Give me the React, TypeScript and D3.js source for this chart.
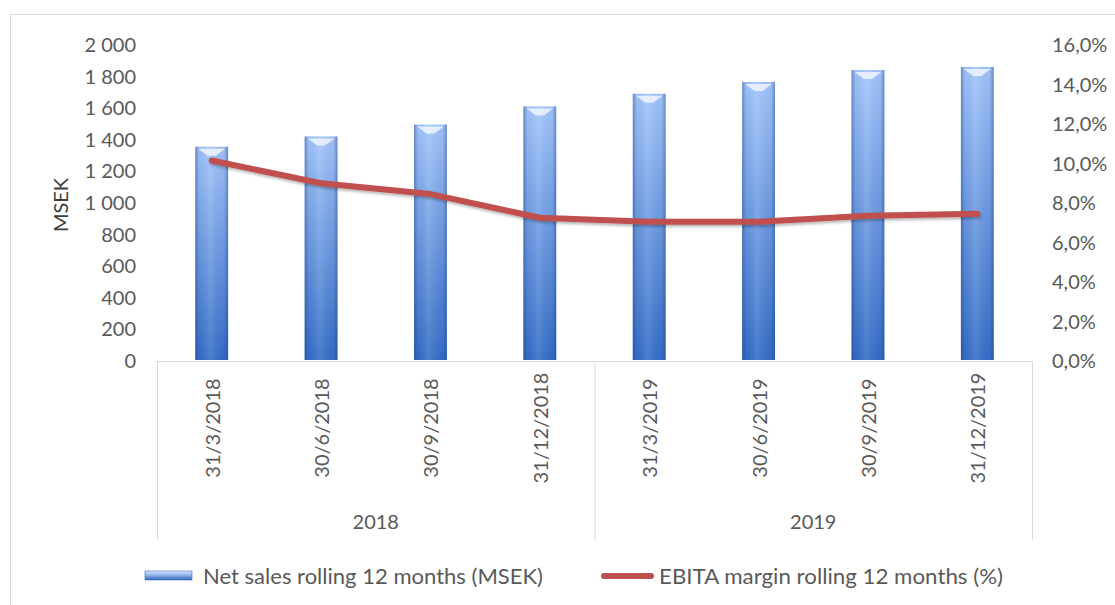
import React from 'react';
import * as d3 from 'd3';

const dates = ['31/3/2018', '30/6/2018', '30/9/2018', '31/12/2018', '31/3/2019', '30/6/2019', '30/9/2019', '31/12/2019'];
const years = ['2018', '2019'];
const netSales = [1350, 1415, 1490, 1605, 1685, 1760, 1835, 1855];
const ebitaMargin = [10.1, 8.95, 8.4, 7.2, 7.0, 7.0, 7.3, 7.4];
const leftTicks = [0, 200, 400, 600, 800, 1000, 1200, 1400, 1600, 1800, 2000];
const rightTicks = [0, 2, 4, 6, 8, 10, 12, 14, 16];

const W = 1115;
const H = 605;
const plot = { left: 157, right: 1032, top: 44, bottom: 360 };
const font = 'Lato, "Open Sans", sans-serif';
const textColor = '#595959';
const lineColor = '#C0504D';

const App: React.FC = () => {
    const x = d3.scaleBand<string>()
        .domain(dates)
        .range([plot.left, plot.right])
        .paddingInner(0.7)
        .paddingOuter(0.35);

    const yLeft = d3.scaleLinear().domain([0, 2000]).range([plot.bottom, plot.top]);
    const yRight = d3.scaleLinear().domain([0, 16]).range([plot.bottom, plot.top]);

    const line = d3.line<number>()
        .x((_, i) => (x(dates[i]) ?? 0) + x.bandwidth() / 2)
        .y(d => yRight(d));

    const fmtLeft = (v: number) => d3.format(',')(v).replace(',', ' ');
    const fmtRight = (v: number) => v.toFixed(1).replace('.', ',') + '%';

    const groupW = x.step() * 4;
    const axisY = plot.bottom + 1;
    const bw = x.bandwidth();

    return (
        <svg width={W} height={H} style={{ position: 'absolute', left: 0, top: 0, display: 'block' }}>
            <defs>
                <linearGradient id="barV" x1="0" y1="0" x2="0" y2="1">
                    <stop offset="0%" stopColor="#a3c5fb" />
                    <stop offset="100%" stopColor="#336cc6" />
                </linearGradient>
                <linearGradient id="barH" x1="0" y1="0" x2="1" y2="0">
                    <stop offset="0%" stopColor="#1f3f7a" stopOpacity={0.45} />
                    <stop offset="12%" stopColor="#1f3f7a" stopOpacity={0.05} />
                    <stop offset="45%" stopColor="#ffffff" stopOpacity={0.12} />
                    <stop offset="88%" stopColor="#1f3f7a" stopOpacity={0.05} />
                    <stop offset="100%" stopColor="#1f3f7a" stopOpacity={0.45} />
                </linearGradient>
                <linearGradient id="legendBar" x1="0" y1="0" x2="0" y2="1">
                    <stop offset="0%" stopColor="#d9e8ff" />
                    <stop offset="45%" stopColor="#8fb4ec" />
                    <stop offset="100%" stopColor="#3465b5" />
                </linearGradient>
                <filter id="shadow" x="-10%" y="-50%" width="120%" height="200%">
                    <feDropShadow dx="1" dy="2" stdDeviation="1.5" floodColor="#000" floodOpacity={0.3} />
                </filter>
            </defs>

            <rect x={10.5} y={14.5} width={W} height={H} fill="#fff" stroke="#d9d9d9" />

            {/* bars */}
            {netSales.map((v, i) => {
                const bx = x(dates[i]) ?? 0;
                const by = yLeft(v);
                const bh = yLeft(0) - by;
                return (
                    <g key={dates[i]}>
                        <rect x={bx} y={by} width={bw} height={bh} fill="url(#barV)" />
                        <rect x={bx} y={by} width={bw} height={bh} fill="url(#barH)" />
                        <path d={`M${bx + 3},${by + 2} L${bx + bw - 3},${by + 2} L${bx + bw / 2 + 4},${by + 9} L${bx + bw / 2 - 4},${by + 9} Z`}
                            fill="#eef5ff" opacity={0.85} />
                    </g>
                );
            })}

            {/* category axis */}
            <line x1={plot.left} x2={plot.right} y1={axisY + 0.5} y2={axisY + 0.5} stroke="#d9d9d9" />
            {[0, 1, 2].map(k => (
                <line key={k} x1={plot.left + k * groupW + 0.5} x2={plot.left + k * groupW + 0.5}
                    y1={axisY} y2={540} stroke="#d9d9d9" />
            ))}
            {dates.map(d => {
                const cx = (x(d) ?? 0) + bw / 2;
                return (
                    <text key={d} transform={`translate(${cx},428) rotate(-90)`} textAnchor="middle"
                        dominantBaseline="central" fontFamily={font} fontSize={20} fill={textColor}>{d}</text>
                );
            })}
            {years.map((yr, k) => (
                <text key={yr} x={plot.left + k * groupW + groupW / 2} y={521} textAnchor="middle"
                    dominantBaseline="central" fontFamily={font} fontSize={20} fill={textColor}>{yr}</text>
            ))}

            {/* left axis labels */}
            {leftTicks.map(t => (
                <text key={t} x={136} y={yLeft(t)} textAnchor="end" dominantBaseline="central"
                    fontFamily={font} fontSize={20} fill={textColor}>{fmtLeft(t)}</text>
            ))}
            <text transform={`translate(60,${(plot.top + plot.bottom) / 2 + 3}) rotate(-90)`} textAnchor="middle"
                dominantBaseline="central" fontFamily={font} fontSize={20} fill="#404040">MSEK</text>

            {/* right axis labels */}
            {rightTicks.map(t => (
                <text key={t} x={1052} y={yRight(t)} dominantBaseline="central"
                    fontFamily={font} fontSize={20} fill={textColor}>{fmtRight(t)}</text>
            ))}

            {/* EBITA line */}
            <path d={line(ebitaMargin) ?? ''} fill="none" stroke={lineColor} strokeWidth={6}
                strokeLinejoin="round" strokeLinecap="round" filter="url(#shadow)" />

            {/* legend */}
            <rect x={145} y={571} width={47} height={9} fill="url(#legendBar)" stroke="#3d6fb8" strokeWidth={0.6} />
            <text x={203} y={576} dominantBaseline="central" fontFamily={font} fontSize={21.5} fill={textColor}
                textLength={340} lengthAdjust="spacingAndGlyphs">
                Net sales rolling 12 months (MSEK)
            </text>
            <line x1={604} x2={651} y1={576} y2={576} stroke={lineColor} strokeWidth={6} strokeLinecap="round" />
            <text x={659} y={576} dominantBaseline="central" fontFamily={font} fontSize={21.5} fill={textColor}
                textLength={344} lengthAdjust="spacingAndGlyphs">
                EBITA margin rolling 12 months (%)
            </text>
        </svg>
    );
};

export default App;
